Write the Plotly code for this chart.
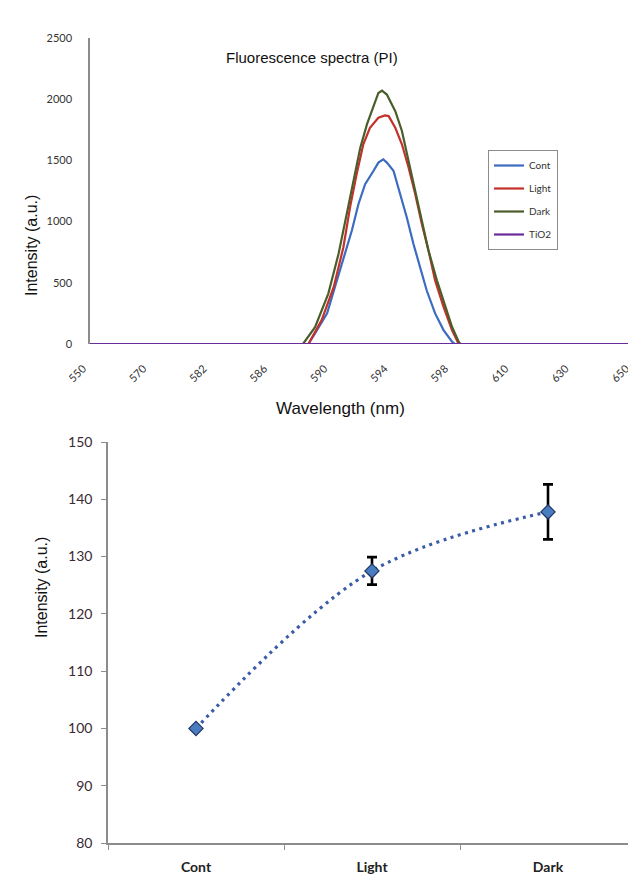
import plotly.graph_objects as go

# ---------------- Data: top chart (fluorescence spectra) ----------------
# x positions are category-axis positions (0..9) matching the tick labels below
wl_tick_labels = ["550", "570", "582", "586", "590", "594", "598", "610", "630", "650"]
wl_tick_pos = [0, 1, 2, 3, 4, 5, 6, 7, 8, 9]

cont_x = [0, 3.62, 3.73, 3.93, 4.06, 4.23, 4.34, 4.45, 4.56, 4.70, 4.78, 4.86, 4.92,
          5.03, 5.14, 5.25, 5.36, 5.47, 5.58, 5.72, 5.86, 6.00, 6.05, 9]
cont_y = [0, 0, 87, 250, 466, 737, 927, 1144, 1306, 1415, 1482, 1509, 1482,
          1415, 1225, 1035, 819, 628, 439, 250, 114, 19, 0, 0]

light_x = [0, 3.62, 3.84, 4.04, 4.20, 4.31, 4.42, 4.53, 4.64, 4.78, 4.89, 4.95,
           5.06, 5.17, 5.28, 5.39, 5.50, 5.61, 5.72, 5.86, 6.00, 6.11, 9]
light_y = [0, 0, 195, 466, 791, 1116, 1388, 1632, 1767, 1848, 1867, 1862,
           1767, 1632, 1442, 1225, 981, 764, 520, 303, 114, 0, 0]

dark_x = [0, 3.53, 3.73, 3.95, 4.12, 4.26, 4.37, 4.48, 4.59, 4.70, 4.78, 4.84, 4.92,
          5.06, 5.17, 5.28, 5.39, 5.50, 5.61, 5.75, 5.89, 6.00, 6.11, 6.14, 9]
dark_y = [0, 0, 138, 412, 737, 1063, 1333, 1604, 1794, 1943, 2051, 2070, 2038,
          1902, 1740, 1496, 1252, 1008, 764, 520, 303, 141, 19, 0, 0]

tio2_x = [0, 9]
tio2_y = [0, 0]

spec_yticks = [0, 500, 1000, 1500, 2000, 2500]

# ---------------- Data: bottom chart ----------------
groups = ["Cont", "Light", "Dark"]
group_vals = [100, 127.5, 137.8]
group_err = [0, 2.4, 4.8]
bottom_yticks = [80, 90, 100, 110, 120, 130, 140, 150]

# ---------------- Figure ----------------
# page body has an 8px margin, so the figure is drawn 8px in from the window edge
OFF = 8
W, H = 636 - OFF, 882 - OFF


def fx(px):
    return (px - OFF) / W


def fy(py):
    return 1 - (py - OFF) / H


fig = go.Figure()

line_w = 2.2
fig.add_trace(go.Scatter(x=cont_x, y=cont_y, mode="lines", name="Cont",
                         line=dict(color="#3C6CC0", width=line_w),
                         xaxis="x", yaxis="y", legendgroup="a"))
fig.add_trace(go.Scatter(x=light_x, y=light_y, mode="lines", name="Light",
                         line=dict(color="#C4302B", width=line_w),
                         xaxis="x", yaxis="y", legendgroup="b"))
fig.add_trace(go.Scatter(x=dark_x, y=dark_y, mode="lines", name="Dark",
                         line=dict(color="#4A5E2A", width=line_w),
                         xaxis="x", yaxis="y", legendgroup="c"))
fig.add_trace(go.Scatter(x=tio2_x, y=tio2_y, mode="lines", name="TiO2",
                         line=dict(color="#6A2C9B", width=line_w),
                         xaxis="x", yaxis="y", legendgroup="d", cliponaxis=False))

fig.add_trace(go.Scatter(
    x=groups, y=group_vals, mode="lines+markers", showlegend=False,
    line=dict(color="#3A5CA8", width=3.2, dash="3px,4.5px", shape="spline"),
    marker=dict(symbol="diamond", size=11, color="#4A7DC0",
                line=dict(color="#1F3560", width=1.2)),
    error_y=dict(type="data", array=group_err, visible=True,
                 color="black", thickness=2.6, width=5),
    xaxis="x2", yaxis="y2"))

tick_font = dict(family="Lato, Carlito, sans-serif", size=11, color="#333333")
axis_col = "#8C8C8C"

fig.update_layout(
    width=W, height=H,
    margin=dict(l=0, r=0, t=0, b=0, autoexpand=False),
    paper_bgcolor="white", plot_bgcolor="white",
    showlegend=True,
    legend=dict(x=fx(488), y=fy(150), xanchor="left", yanchor="top",
                bordercolor="#8C8C8C", borderwidth=1, bgcolor="white",
                font=dict(family="Lato, sans-serif", size=10, color="#333333"),
                tracegroupgap=4, itemwidth=30),
    xaxis=dict(domain=[fx(90), fx(633)], range=[0, 9], anchor="y",
               automargin=False, ticklabeloverflow="allow",
               tickmode="array", tickvals=wl_tick_pos, ticktext=wl_tick_labels,
               tickangle=-45, ticks="", showgrid=False, zeroline=False,
               showline=False, ticklabelshift=-7,
               tickfont=tick_font, ticklabelstandoff=15),
    yaxis=dict(domain=[fy(344), fy(38)], range=[0, 2500], anchor="x",
               automargin=False,
               tickmode="array", tickvals=spec_yticks, ticks="",
               showgrid=False, zeroline=False, showline=True,
               linecolor=axis_col, linewidth=1.5,
               tickfont=tick_font, ticklabelstandoff=14),
    xaxis2=dict(domain=[fx(108), 1.0], type="category", range=[-0.5, 2.5],
                anchor="y2", automargin=False,
                tickson="boundaries", ticks="outside", ticklen=5,
                tickcolor=axis_col, showgrid=False, zeroline=False,
                showline=True, linecolor=axis_col, linewidth=1.5,
                tickfont=dict(family="Lato, sans-serif", size=14,
                              color="#222222", weight="bold"),
                ticklabelstandoff=10),
    yaxis2=dict(domain=[fy(843), fy(442)], range=[80, 150], anchor="x2",
                automargin=False,
                tickmode="array", tickvals=bottom_yticks, ticks="outside",
                ticklen=5, tickcolor=axis_col, showgrid=False, zeroline=False,
                showline=True, linecolor=axis_col, linewidth=1.5,
                tickfont=dict(family="Lato, sans-serif", size=14, color="#3A2A33"),
                ticklabelstandoff=6),
)

title_font = dict(family="Liberation Sans, Arial, sans-serif", color="#111111")
fig.add_annotation(text="Fluorescence spectra (PI)", x=fx(312), y=fy(47),
                   xref="paper", yref="paper", showarrow=False,
                   font=dict(size=15, **title_font))
fig.add_annotation(text="Intensity (a.u.)", x=fx(21), y=fy(193),
                   xref="paper", yref="paper", showarrow=False, textangle=-90,
                   font=dict(size=16, **title_font))
fig.add_annotation(text="Wavelength (nm)", x=fx(340), y=fy(408),
                   xref="paper", yref="paper", showarrow=False,
                   font=dict(size=17, **title_font))
fig.add_annotation(text="Intensity (a.u.)", x=fx(31), y=fy(640),
                   xref="paper", yref="paper", showarrow=False, textangle=-90,
                   font=dict(size=16, **title_font))

fig.write_html("out.html")
